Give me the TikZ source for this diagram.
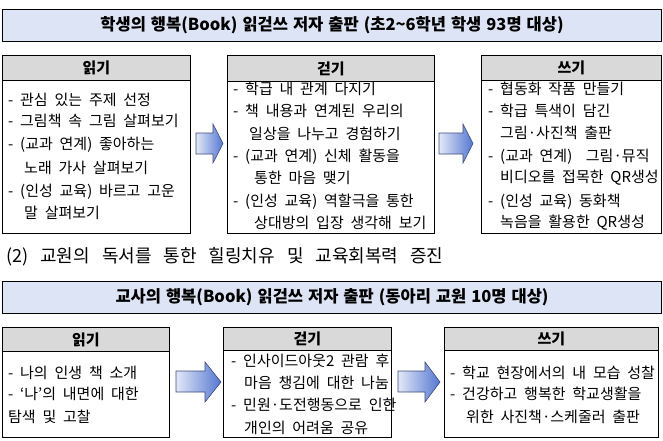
\documentclass[tikz,border=0pt]{standalone}
\usepackage{fontspec}
\setmainfont{Noto Sans CJK KR}
\newcommand\bodysz{\fontsize{15}{17}\selectfont\spaceskip=6.8pt\relax}
\newcommand\hdrsz{\bfseries\fontsize{15}{17}\selectfont}
\newcommand\titlesz{\bfseries\fontsize{16.5}{19}\selectfont\spaceskip=5pt\relax}
\newcommand\secsz{\fontsize{18}{20}\selectfont\spaceskip=12pt\relax}
\definecolor{bannerfill}{HTML}{DDE4F6}
\definecolor{hdrfill}{HTML}{D9D9D9}
\definecolor{arrowlight}{HTML}{E2E8F7}
\definecolor{arrowdark}{HTML}{5577D2}
\definecolor{arrowline}{HTML}{3D4C7A}
\tikzset{
  banner/.style={draw=black, line width=1.1pt, fill=bannerfill, anchor=north west, inner sep=0pt, minimum width=659pt, minimum height=32pt, font=\titlesz},
  hdr/.style={draw=black, line width=0.9pt, fill=hdrfill, anchor=north west, inner sep=0pt, font=\hdrsz},
  bodybox/.style={draw=black, line width=0.9pt, fill=white, anchor=north west, inner sep=0pt},
  ln/.style={anchor=west, inner sep=0pt, font=\bodysz},
  blockarrow/.style={draw=arrowline, line width=0.6pt, left color=arrowlight, right color=arrowdark}
}
\begin{document}
\begin{tikzpicture}[x=1pt,y=-1pt]
\useasboundingbox (0,0) rectangle (663,440);
% ---------- banner 1 ----------
\node[banner] (t1) at (2,9) {학생의 행복(Book) 읽걷쓰 저자 출판 (초2\textasciitilde 6학년 학생 93명 대상)};
% ---------- row 1 boxes ----------
\node[bodybox, minimum width=188pt, minimum height=153pt] (b11) at (2,80) {};
\node[hdr, minimum width=188pt, minimum height=25pt] (h11) at (2,55) {읽기};
\node[bodybox, minimum width=207pt, minimum height=152pt] (b12) at (227,81) {};
\node[hdr, minimum width=207pt, minimum height=26pt] (h12) at (227,55) {걷기};
\node[bodybox, minimum width=180pt, minimum height=153pt] (b13) at (481,80) {};
\node[hdr, minimum width=180pt, minimum height=25pt] (h13) at (481,55) {쓰기};
% box 1 text
\node[ln] (a1) at (8,100) {- 관심 있는 주제 선정};
\node[ln] (a2) at (8,121) {- 그림책 속 그림 살펴보기};
\node[ln] (a3) at (8,145) {- (교과 연계) 좋아하는};
\node[ln] (a4) at (24,168) {노래 가사 살펴보기};
\node[ln] (a5) at (8,192) {- (인성 교육) 바르고 고운};
\node[ln] (a6) at (24,213) {말 살펴보기};
% box 2 text
\node[ln] (c1) at (233,89) {- 학급 내 관계 다지기};
\node[ln] (c2) at (233,111) {- 책 내용과 연계된 우리의};
\node[ln] (c3) at (249,134) {일상을 나누고 경험하기};
\node[ln] (c4) at (233,157) {- (교과 연계) 신체 활동을};
\node[ln] (c5) at (254,178) {통한 마음 맺기};
\node[ln] (c6) at (233,202) {- (인성 교육) 역할극을 통한};
\node[ln] (c7) at (254,223) {상대방의 입장 생각해 보기};
% box 3 text
\node[ln] (d1) at (488,89) {- 협동화 작품 만들기};
\node[ln] (d2) at (488,111) {- 학급 특색이 담긴};
\node[ln] (d3) at (500,133) {그림·사진책 출판};
\node[ln] (d4) at (488,157) {- (교과 연계) \ 그림·뮤직};
\node[ln] (d5) at (500,178) {비디오를 접목한 QR생성};
\node[ln] (d6) at (488,202) {- (인성 교육) 동화책};
\node[ln] (d7) at (500,223) {녹음을 활용한 QR생성};
% row 1 arrows
\path[blockarrow] (196,133) -- (213,133) -- (213,124) -- (223,143.5) -- (213,163) -- (213,154) -- (196,154) -- cycle;
\path[blockarrow] (439,133) -- (463,133) -- (463,124) -- (473,143.5) -- (463,163) -- (463,154) -- (439,154) -- cycle;
% ---------- section heading ----------
\node[anchor=west, inner sep=0pt, font=\secsz] (s2) at (6,257) {(2) 교원의 독서를 통한 힐링치유 및 교육회복력 증진};
% ---------- banner 2 ----------
\node[banner] (t2) at (2,281) {교사의 행복(Book) 읽걷쓰 저자 출판 (동아리 교원 10명 대상)};
% ---------- row 2 boxes ----------
\node[bodybox, minimum width=167pt, minimum height=86pt] (b21) at (2,351) {};
\node[hdr, minimum width=167pt, minimum height=24pt] (h21) at (2,327) {읽기};
\node[bodybox, minimum width=168pt, minimum height=87pt] (b22) at (223,350) {};
\node[hdr, minimum width=168pt, minimum height=23pt] (h22) at (223,327) {걷기};
\node[bodybox, minimum width=214pt, minimum height=87pt] (b23) at (444,350) {};
\node[hdr, minimum width=214pt, minimum height=23pt] (h23) at (444,327) {쓰기};
% row 2 text
\node[ln] (e1) at (8,373) {- 나의 인생 책 소개};
\node[ln] (e2) at (8,394) {- ‘나’의 내면에 대한};
\node[ln] (e3) at (8,417) {탐색 및 고찰};
\node[ln] (f1) at (231,361) {- 인사이드아웃2 관람 후};
\node[ln] (f2) at (244,383) {마음 챙김에 대한 나눔};
\node[ln] (f3) at (231,405) {- 민원·도전행동으로 인한};
\node[ln] (f4) at (244,428) {개인의 어려움 공유};
\node[ln] (g1) at (450,373) {- 학교 현장에서의 내 모습 성찰};
\node[ln] (g2) at (450,394) {- 건강하고 행복한 학교생활을};
\node[ln] (g3) at (466,417) {위한 사진책·스케줄러 출판};
% row 2 arrows
\path[blockarrow] (176,371) -- (205,371) -- (205,362) -- (221,382) -- (205,402) -- (205,392) -- (176,392) -- cycle;
\path[blockarrow] (398,371) -- (425,371) -- (425,362) -- (440,382) -- (425,402) -- (425,392) -- (398,392) -- cycle;
\end{tikzpicture}
\end{document}
